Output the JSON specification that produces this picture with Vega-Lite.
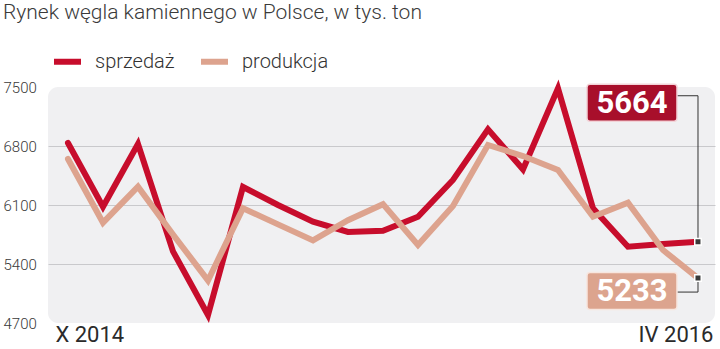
{
  "$schema": "https://vega.github.io/schema/vega-lite/v6.json",
  "width": 667,
  "height": 236,
  "autosize": {"type": "none"},
  "padding": {"left": 48, "top": 87, "right": 5, "bottom": 26},
  "background": "white",
  "title": {
    "text": "Rynek węgla kamiennego w Polsce, w tys. ton",
    "anchor": "start",
    "frame": "group",
    "dx": -45,
    "offset": 22,
    "fontSize": 21,
    "font": "Roboto",
    "fontWeight": 300,
    "color": "#3a3a3a"
  },
  "config": {
    "view": {"fill": "#f0f0f2", "stroke": null, "cornerRadius": 10},
    "font": "Roboto"
  },
  "data": {
    "values": [
      {"i": 0, "seria": "sprzedaż", "wartosc": 6836},
      {"i": 1, "seria": "sprzedaż", "wartosc": 6080},
      {"i": 2, "seria": "sprzedaż", "wartosc": 6824},
      {"i": 3, "seria": "sprzedaż", "wartosc": 5550},
      {"i": 4, "seria": "sprzedaż", "wartosc": 4795},
      {"i": 5, "seria": "sprzedaż", "wartosc": 6314},
      {"i": 6, "seria": "sprzedaż", "wartosc": 6100},
      {"i": 7, "seria": "sprzedaż", "wartosc": 5902},
      {"i": 8, "seria": "sprzedaż", "wartosc": 5780},
      {"i": 9, "seria": "sprzedaż", "wartosc": 5795},
      {"i": 10, "seria": "sprzedaż", "wartosc": 5961},
      {"i": 11, "seria": "sprzedaż", "wartosc": 6397},
      {"i": 12, "seria": "sprzedaż", "wartosc": 6998},
      {"i": 13, "seria": "sprzedaż", "wartosc": 6523},
      {"i": 14, "seria": "sprzedaż", "wartosc": 7484},
      {"i": 15, "seria": "sprzedaż", "wartosc": 6060},
      {"i": 16, "seria": "sprzedaż", "wartosc": 5605},
      {"i": 17, "seria": "sprzedaż", "wartosc": 5637},
      {"i": 18, "seria": "sprzedaż", "wartosc": 5664},
      {"i": 0, "seria": "produkcja", "wartosc": 6646},
      {"i": 1, "seria": "produkcja", "wartosc": 5890},
      {"i": 2, "seria": "produkcja", "wartosc": 6317},
      {"i": 3, "seria": "produkcja", "wartosc": 5750},
      {"i": 4, "seria": "produkcja", "wartosc": 5205},
      {"i": 5, "seria": "produkcja", "wartosc": 6062},
      {"i": 6, "seria": "produkcja", "wartosc": 5870},
      {"i": 7, "seria": "produkcja", "wartosc": 5680},
      {"i": 8, "seria": "produkcja", "wartosc": 5920},
      {"i": 9, "seria": "produkcja", "wartosc": 6110},
      {"i": 10, "seria": "produkcja", "wartosc": 5625},
      {"i": 11, "seria": "produkcja", "wartosc": 6088},
      {"i": 12, "seria": "produkcja", "wartosc": 6812},
      {"i": 13, "seria": "produkcja", "wartosc": 6681},
      {"i": 14, "seria": "produkcja", "wartosc": 6515},
      {"i": 15, "seria": "produkcja", "wartosc": 5961},
      {"i": 16, "seria": "produkcja", "wartosc": 6127},
      {"i": 17, "seria": "produkcja", "wartosc": 5566},
      {"i": 18, "seria": "produkcja", "wartosc": 5233}
    ]
  },
  "encoding": {
    "x": {
      "field": "i",
      "type": "quantitative",
      "scale": {"domain": [-0.571, 18.486], "nice": false, "zero": false},
      "axis": {
        "values": [0, 18],
        "title": null,
        "domain": false,
        "ticks": false,
        "tickSize": 0,
        "grid": false,
        "labelExpr": "datum.value == 0 ? 'X 2014' : 'IV 2016'",
        "labelFontSize": 22,
        "labelFont": "Roboto",
        "labelColor": "#2a2a2a",
        "labelPadding": 1,
        "labelAlign": {"condition": {"test": "datum.value == 0", "value": "left"}, "value": "right"},
        "labelOffset": {"condition": {"test": "datum.value == 0", "value": -13}, "value": 15},
        "labelFlush": false,
        "labelBound": false,
        "labelOverlap": false
      }
    },
    "y": {
      "field": "wartosc",
      "type": "quantitative",
      "scale": {"domain": [4700, 7500], "nice": false, "zero": false},
      "axis": {
        "values": [4700, 5400, 6100, 6800, 7500],
        "format": "d",
        "title": null,
        "domain": false,
        "ticks": false,
        "tickSize": 0,
        "labelAlign": "left",
        "labelBaseline": "middle",
        "labelPadding": 45,
        "labelFontSize": 15,
        "labelFont": "Roboto",
        "labelFontWeight": 300,
        "labelColor": "#3a3a3a",
        "labelFlush": false,
        "labelBound": false,
        "grid": true,
        "gridColor": "#c9c9cc",
        "gridWidth": 1,
        "gridOpacity": {"condition": {"test": "datum.value == 4700 || datum.value == 7500", "value": 0}, "value": 1}
      }
    }
  },
  "layer": [
    {
      "mark": {"type": "line", "strokeWidth": 6, "strokeJoin": "miter", "strokeCap": "round"},
      "encoding": {
        "color": {
          "field": "seria",
          "type": "nominal",
          "scale": {"domain": ["sprzedaż", "produkcja"], "range": ["#c70d2c", "#dda38e"]},
          "legend": {
            "title": null,
            "orient": "none",
            "direction": "horizontal",
            "legendX": 3,
            "legendY": -42,
            "padding": 0,
            "symbolType": "stroke",
            "symbolStrokeWidth": 6,
            "symbolSize": 729,
            "labelFontSize": 20,
            "labelFont": "Roboto",
            "labelFontWeight": 300,
            "labelColor": "#333333",
            "labelOffset": 11,
            "columnPadding": 14
          }
        }
      }
    },
    {
      "transform": [{"filter": "datum.i == 18 && datum.seria == 'sprzedaż'"}],
      "mark": {"type": "rule", "color": "#333333", "strokeWidth": 1, "y2Offset": -146},
      "encoding": {"y2": {"field": "wartosc"}}
    },
    {
      "transform": [{"filter": "datum.i == 18 && datum.seria == 'sprzedaż'"}],
      "mark": {"type": "rule", "color": "#333333", "strokeWidth": 1, "xOffset": -21, "yOffset": -146, "y2Offset": -146},
      "encoding": {"x2": {"field": "i"}, "y2": {"field": "wartosc"}}
    },
    {
      "transform": [{"filter": "datum.i == 18 && datum.seria == 'produkcja'"}],
      "mark": {"type": "rule", "color": "#333333", "strokeWidth": 1, "y2Offset": 14},
      "encoding": {"y2": {"field": "wartosc"}}
    },
    {
      "transform": [{"filter": "datum.i == 18 && datum.seria == 'produkcja'"}],
      "mark": {"type": "rule", "color": "#333333", "strokeWidth": 1, "xOffset": -21, "yOffset": 14, "y2Offset": 14},
      "encoding": {"x2": {"field": "i"}, "y2": {"field": "wartosc"}}
    },
    {
      "transform": [{"filter": "datum.i == 18 && datum.seria == 'sprzedaż'"}],
      "mark": {"type": "rect", "width": 90, "height": 37, "cornerRadius": 3, "xOffset": -66, "yOffset": -139, "fill": "#a80f2b", "stroke": "#f3d3d8", "strokeWidth": 1.5},
      "encoding": {}
    },
    {
      "transform": [{"filter": "datum.i == 18 && datum.seria == 'produkcja'"}],
      "mark": {"type": "rect", "width": 90, "height": 37, "cornerRadius": 3, "xOffset": -66, "yOffset": 13, "fill": "#dca48e", "stroke": "#f7e6df", "strokeWidth": 1.5},
      "encoding": {}
    },
    {
      "transform": [{"filter": "datum.i == 18 && datum.seria == 'sprzedaż'"}],
      "mark": {"type": "text", "xOffset": -66, "yOffset": -138, "fontSize": 31, "fontWeight": "bold", "font": "Roboto", "color": "white", "align": "center", "baseline": "middle"},
      "encoding": {"text": {"field": "wartosc", "type": "quantitative", "format": "d"}}
    },
    {
      "transform": [{"filter": "datum.i == 18 && datum.seria == 'produkcja'"}],
      "mark": {"type": "text", "xOffset": -66, "yOffset": 14, "fontSize": 31, "fontWeight": "bold", "font": "Roboto", "color": "white", "align": "center", "baseline": "middle"},
      "encoding": {"text": {"field": "wartosc", "type": "quantitative", "format": "d"}}
    },
    {
      "transform": [{"filter": "datum.i == 18"}],
      "mark": {"type": "point", "shape": "square", "filled": true, "size": 42, "fill": "#3a3a3a", "stroke": "white", "strokeWidth": 1.5, "opacity": 1},
      "encoding": {}
    }
  ]
}
